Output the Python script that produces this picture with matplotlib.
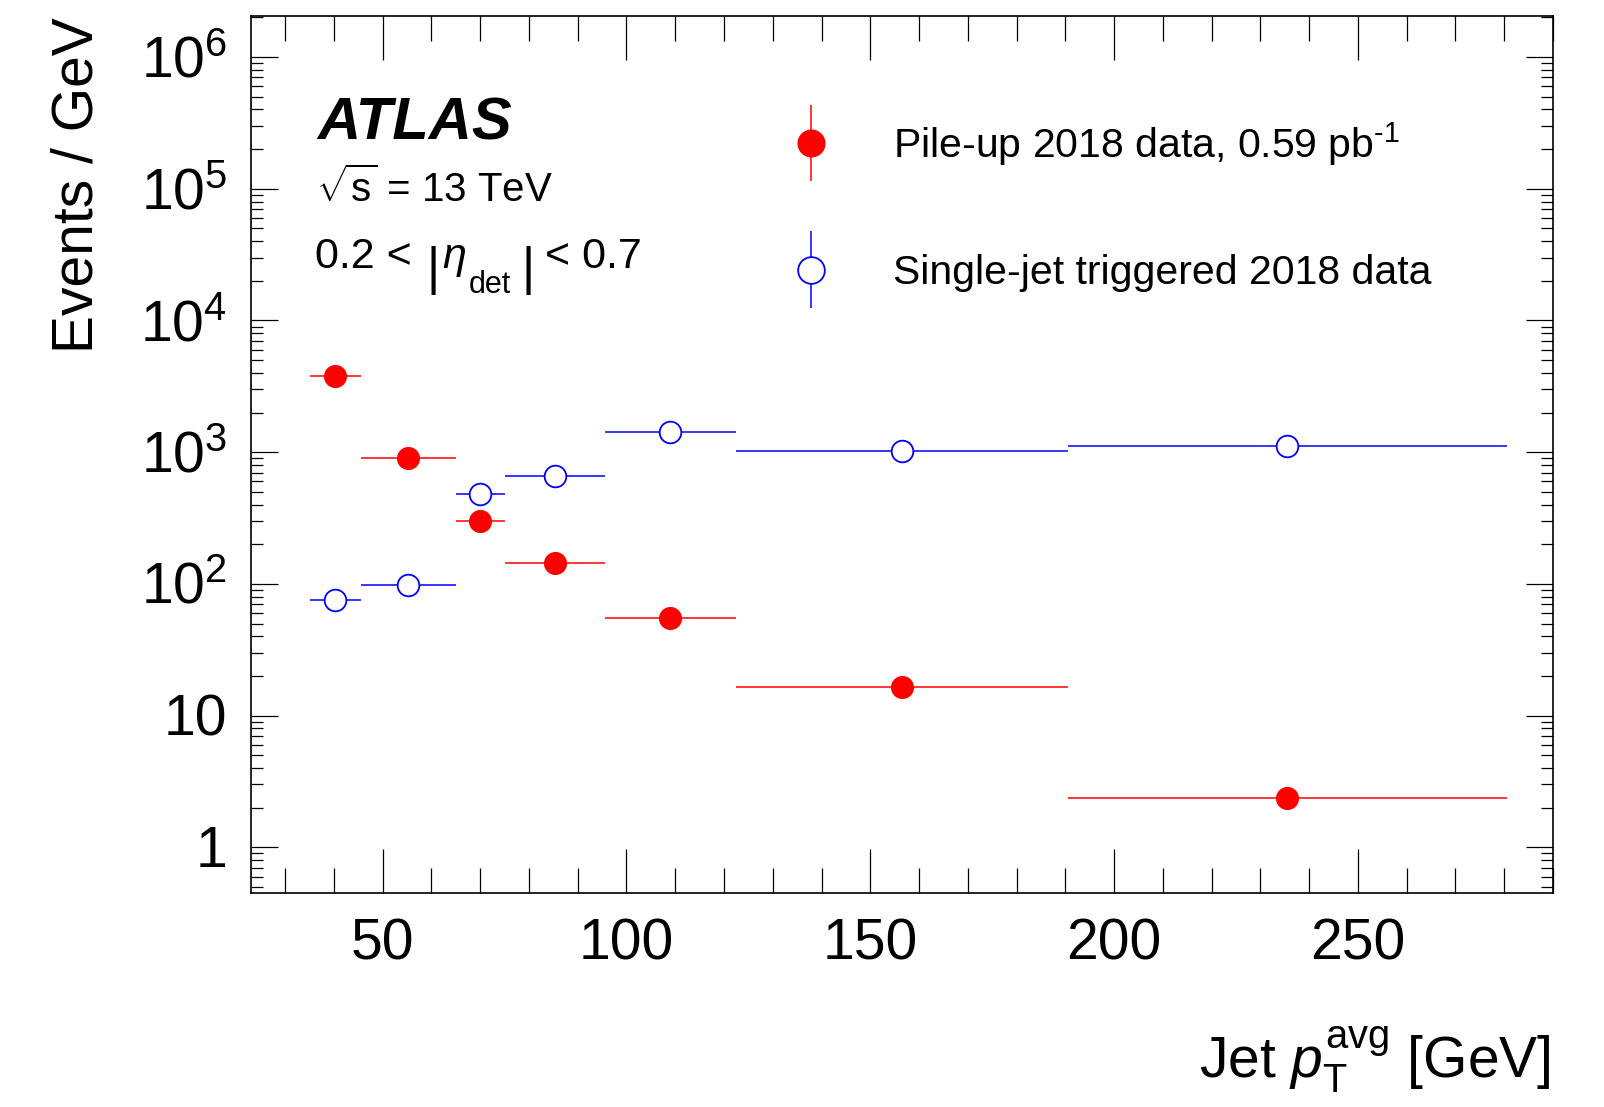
import numpy as np
import matplotlib
matplotlib.use("Agg")
import matplotlib.pyplot as plt
from matplotlib.ticker import FixedLocator, FuncFormatter, LogLocator, MultipleLocator, NullFormatter
from matplotlib.legend_handler import HandlerErrorbar, HandlerTuple
from matplotlib.transforms import ScaledTranslation

# ---------------- data ----------------
bin_edges = [35, 45.5, 65, 75, 95.5, 122.5, 190.5, 280.5]
pileup_values = [3780, 896, 301, 144, 55.2, 16.6, 2.36]
singlejet_values = [76, 98, 482, 665, 1420, 1030, 1110]
pileup_label = r'Pile-up 2018 data, 0.59 pb$^{\text{-1}}$'
singlejet_label = 'Single-jet triggered 2018 data'
y_major_ticks = [1, 10, 100, 1e3, 1e4, 1e5, 1e6]
y_tick_labels = ['1', '10', r'$10^{2}$', r'$10^{3}$', r'$10^{4}$', r'$10^{5}$', r'$10^{6}$']
x_major_ticks = [50, 100, 150, 200, 250]

# ---------------- style ----------------
plt.rcParams['font.family'] = ['Liberation Sans', 'DejaVu Sans']
plt.rcParams['mathtext.fontset'] = 'custom'
plt.rcParams['mathtext.rm'] = 'Liberation Sans'
plt.rcParams['mathtext.it'] = 'Liberation Sans:italic'
plt.rcParams['mathtext.bf'] = 'Liberation Sans:bold'

edges = np.array(bin_edges)
centers = 0.5 * (edges[:-1] + edges[1:])
xerr = np.vstack([centers - edges[:-1], edges[1:] - centers])

fig = plt.figure(figsize=(16.04, 11.07), dpi=100)
ax = fig.add_axes([251/1604, 1 - 893/1107, (1553-251)/1604, (893-16)/1107])

ax.set_yscale('log')
ax.set_xlim(23, 290)
ax.set_ylim(0.45, 2.05e6)

ms = 15.6
ax.errorbar(centers, singlejet_values, xerr=xerr, fmt='o', color='#0000ff',
            mfc='white', mec='#0000ff', mew=1.3, ms=ms, elinewidth=1.1, capsize=0, zorder=3)
ax.errorbar(centers, pileup_values, xerr=xerr, fmt='o', color='#ff0000',
            mfc='#ff0000', mec='#ff0000', ms=ms, elinewidth=1.1, capsize=0, zorder=4)

# legend handles (vertical bars, as in the ROOT legend)
lms = 19.2
h_red = ax.errorbar([np.nan], [np.nan], yerr=[np.nan], fmt='none', ecolor='#ff0000', elinewidth=1.1)
h_red_m, = ax.plot([np.nan], [np.nan], ls='none', marker='o', ms=lms, color='#ff0000')
h_blue = ax.errorbar([np.nan], [np.nan], yerr=[np.nan], fmt='none', ecolor='#0000ff', elinewidth=1.1)
h_blue_m, = ax.plot([np.nan], [np.nan], ls='none', marker='o', ms=lms, mfc='white', mec='#0000ff', mew=1.3)

leg_fs = 29.5
leg = ax.legend([(h_red, h_red_m), (h_blue, h_blue_m)], [pileup_label, singlejet_label],
                handler_map={type(h_red): HandlerErrorbar(yerr_size=0.93),
                             tuple: HandlerTuple(ndivide=1, pad=0)},
                loc='upper left', bbox_to_anchor=((790.5 - 251) / 1302, (893 - 120) / 877),
                frameon=False, fontsize=leg_fs, borderpad=0, borderaxespad=0,
                handlelength=1.0, handletextpad=1.5, labelspacing=2.1)

# ticks
ax.yaxis.set_major_locator(FixedLocator(y_major_ticks))
ax.yaxis.set_major_formatter(FuncFormatter(lambda v, p: y_tick_labels[y_major_ticks.index(v)] if v in y_major_ticks else ''))
ax.yaxis.set_minor_locator(LogLocator(base=10, subs=np.arange(2, 10), numticks=30))
ax.yaxis.set_minor_formatter(NullFormatter())
ax.xaxis.set_major_locator(FixedLocator(x_major_ticks))
ax.xaxis.set_minor_locator(MultipleLocator(10))

ax.tick_params(axis='both', which='both', direction='in', top=True, right=True, width=0.9, colors='black')
ax.tick_params(axis='x', which='major', length=31.7, pad=17.5, labelsize=41)
ax.tick_params(axis='x', which='minor', length=18)
ax.tick_params(axis='y', which='major', length=19.4, pad=17, labelsize=41)
ax.tick_params(axis='y', which='minor', length=8.9)
down = ScaledTranslation(0, -5 / 100, fig.dpi_scale_trans)
for lbl in ax.get_yticklabels():
    lbl.set_verticalalignment('center')
    lbl.set_transform(lbl.get_transform() + down)
for sp in ax.spines.values():
    sp.set_linewidth(1.2)

# axis titles
ax.set_xlabel(r'Jet $p_{\mathrm{T}}^{\mathrm{avg}}$ [GeV]', fontsize=41, ha='right', va='baseline')
ax.xaxis.set_label_coords((1551 - 251) / 1302, (893 - 1078) / 877)
ax.set_ylabel('Events / GeV', fontsize=41, ha='right', va='baseline')
ax.yaxis.set_label_coords((93 - 251) / 1302, (893 - 17) / 877)

# annotations
def ax_xy(px, py):
    return ((px - 251) / 1302, (893 - py) / 877)

ax.text(*ax_xy(317, 140), 'ATLAS', transform=ax.transAxes, fontsize=43,
        fontweight='bold', fontstyle='italic', ha='left', va='baseline')
ax.text(*ax_xy(316, 202), r'$\sqrt{\mathrm{s}}$ = 13 TeV', transform=ax.transAxes, fontsize=29,
        ha='left', va='baseline')

# 0.2 < |eta_det| < 0.7, set piece by piece like the ROOT TLatex
eta_base = 268
ax.text(*ax_xy(315, eta_base), '0.2 <', transform=ax.transAxes, fontsize=31, ha='left', va='baseline')
ax.text(*ax_xy(433.5, 284), '|', transform=ax.transAxes, fontsize=36.5, ha='center', va='baseline')
ax.text(*ax_xy(442, eta_base), 'η', transform=ax.transAxes, fontsize=31, fontstyle='italic',
        ha='left', va='baseline')
ax.text(*ax_xy(469, 293), 'det', transform=ax.transAxes, fontsize=22, ha='left', va='baseline')
ax.text(*ax_xy(528.5, 284), '|', transform=ax.transAxes, fontsize=36.5, ha='center', va='baseline')
ax.text(*ax_xy(545, eta_base), '< 0.7', transform=ax.transAxes, fontsize=31, ha='left', va='baseline')

fig.savefig('out.png', dpi=100)
